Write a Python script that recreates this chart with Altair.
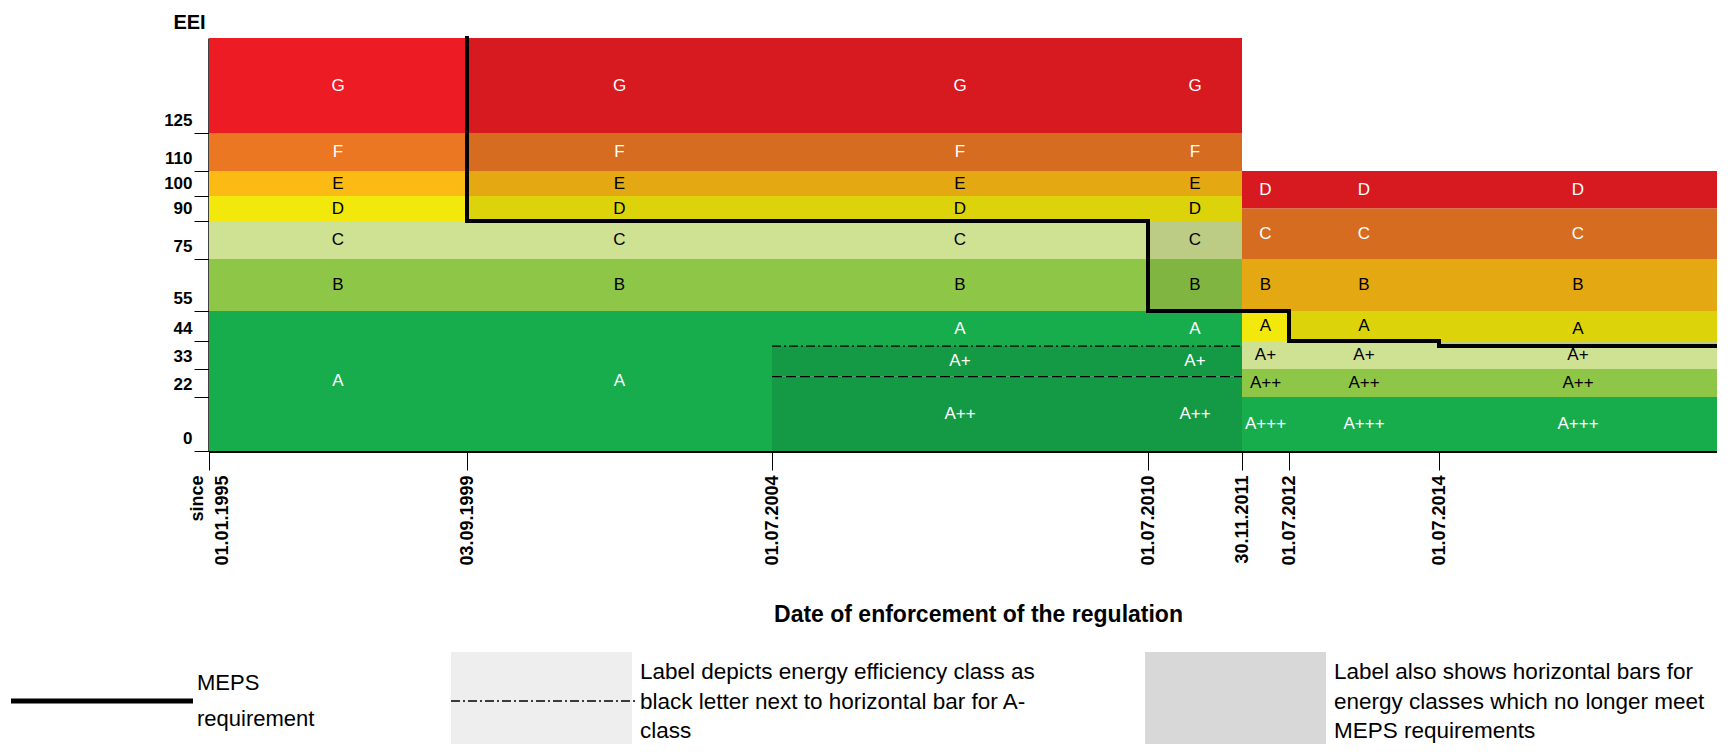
import altair as alt
import pandas as pd
import numpy as np

FONT = "Liberation Sans"

# ---------------- data ----------------
dates = ["01.01.1995", "03.09.1999", "01.07.2004", "01.07.2010",
         "30.11.2011", "01.07.2012", "01.07.2014"]
eei_ticks = [0, 22, 33, 44, 55, 75, 90, 100, 110, 125]

# non-linear axes (piecewise scales)
x_domain = [0, 1, 2, 3, 4, 5, 6, 7]
x_range_px = [0, 258, 563, 939, 1033, 1080, 1230, 1508]
y_domain = [0, 22, 33, 44, 55, 75, 90, 100, 110, 125, 150]
y_range_px = [413, 359, 331, 303, 273, 221, 183, 158, 133, 95, 0]

palette = ["#ED1C24", "#EC7723", "#FBBA14", "#F3E80C", "#CFE193", "#8EC748", "#17AD4D"]

# old scheme (1995-2004)
old_classes = ["G", "F", "E", "D", "C", "B", "A"]
old_lower = [125, 110, 100, 90, 75, 55, 0]
old_upper = [150, 125, 110, 100, 90, 75, 55]
old_tier = [0, 1, 2, 3, 4, 5, 6]

# old scheme with A+ / A++ (2004-2011)
old2_classes = ["G", "F", "E", "D", "C", "B", "A", "A+", "A++"]
old2_lower = [125, 110, 100, 90, 75, 55, 42, 30, 0]
old2_upper = [150, 125, 110, 100, 90, 75, 55, 42, 30]
old2_tier = [0, 1, 2, 3, 4, 5, 6, 6, 6]

# new scheme (since 30.11.2011)
new_classes = ["D", "C", "B", "A", "A+", "A++", "A+++"]
new_lower = [95, 75, 55, 44, 33, 22, 0]
new_lower_2014 = [95, 75, 55, 42, 33, 22, 0]
new_upper = [110, 95, 75, 55, 44, 33, 22]
new_tier = [0, 1, 2, 3, 4, 5, 6]

# MEPS requirement per period, and the MEPS step line
meps_level = [None, 90, 90, 55, 55, 44, 42]
meps_x = [1, 1, 3, 3, 5, 5, 6, 6, 7]
meps_y = [150, 90, 90, 55, 55, 44, 44, 42, 42]

# A+ / A++ thresholds 2004-2011 (horizontal bars)
aplus_line = 42
aplus2_line = 30

# ---------------- table ----------------
schemes = {
    "old": (old_classes, old_lower, old_upper, old_tier),
    "old2": (old2_classes, old2_lower, old2_upper, old2_tier),
    "new": (new_classes, new_lower, new_upper, new_tier),
    "new14": (new_classes, new_lower_2014, new_upper, new_tier),
}
columns = ["old", "old", "old2", "old2", "new", "new", "new14"]

rng_rev = y_range_px[::-1]
dom_rev = y_domain[::-1]


def px(v):
    return np.interp(v, y_domain, y_range_px)


rows = []
for c, sch in enumerate(columns):
    cls, lo, hi, tier = schemes[sch]
    for k in range(len(cls)):
        if meps_level[c] is not None and lo[k] >= meps_level[c]:
            stip = "meps"
        elif sch == "old2" and cls[k] in ("A+", "A++"):
            stip = "label"
        else:
            stip = "none"
        mid_px = (px(lo[k]) + px(hi[k])) / 2.0
        ly = float(np.interp(mid_px, rng_rev, dom_rev))
        rows.append(dict(x0=c, x1=c + 1, xm=c + 0.5, lo=lo[k], hi=hi[k],
                         cls=cls[k], tier=tier[k], stip=stip, ly=ly))
bands = pd.DataFrame(rows)
meps = pd.DataFrame({"x": meps_x, "y": meps_y, "i": list(range(len(meps_x)))})

# ---------------- scales / axes ----------------
x_scale = alt.Scale(domain=x_domain, range=x_range_px, nice=False, zero=False)
y_scale = alt.Scale(domain=y_domain, range=y_range_px, nice=False, zero=False)

labels_js = "[" + ",".join("'%s'" % d for d in dates) + "]"
label_expr = "datum.value == 0 ? ['since', %s[0]] : %s[datum.value]" % (labels_js, labels_js)

x_axis = alt.Axis(
    values=list(range(len(dates))), labelExpr=label_expr,
    labelAngle=270, labelAlign="right", labelBaseline="middle",
    labelOffset={"condition": {"test": "datum.value == 0", "value": -12}, "value": 0},
    labelFont=FONT, labelFontSize=18, labelFontWeight="bold", labelColor="black",
    labelPadding=5, labelLineHeight=25, labelOverlap=False, labelFlush=False,
    tickSize=19, tickColor="black", tickWidth=1,
    domainColor="black", domainWidth=3, grid=False,
    title="Date of enforcement of the regulation", titleFont=FONT, titleFontSize=23,
    titleFontWeight="bold", titleColor="black", titleX=769, titleY=170,
    titleAlign="center", titleBaseline="alphabetic",
)
y_axis = alt.Axis(
    values=eei_ticks, labelFont=FONT, labelFontSize=17, labelFontWeight="bold",
    labelColor="black", labelPadding=2, labelOffset=-13, labelBaseline="middle",
    labelOverlap=False, labelFlush=False,
    tickSize=15, tickColor="black", tickWidth=1,
    domainColor="black", domainWidth=2.5, grid=False,
    title="EEI", titleAngle=0, titleX=-20, titleY=-16, titleAlign="center",
    titleBaseline="middle", titleFont=FONT, titleFontSize=20, titleFontWeight="bold",
    titleColor="black",
)

base = alt.Chart(bands)

rects = base.mark_rect().encode(
    x=alt.X("x0:Q", scale=x_scale, axis=x_axis),
    x2="x1:Q",
    y=alt.Y("lo:Q", scale=y_scale, axis=y_axis),
    y2="hi:Q",
    color=alt.Color("tier:N", scale=alt.Scale(domain=list(range(7)), range=palette), legend=None),
)

stipple_meps = base.transform_filter("datum.stip == 'meps'").mark_rect(
    color="black", opacity=0.09
).encode(x="x0:Q", x2="x1:Q", y="lo:Q", y2="hi:Q")
stipple_label = base.transform_filter("datum.stip == 'label'").mark_rect(
    color="black", opacity=0.11
).encode(x="x0:Q", x2="x1:Q", y="lo:Q", y2="hi:Q")

labels = base.mark_text(font=FONT, fontSize=17).encode(
    x="xm:Q", y="ly:Q", text="cls:N",
    color=alt.condition("datum.tier <= 1 || datum.tier == 6", alt.value("white"), alt.value("black")),
)

bars_df = pd.DataFrame({"x0": [2, 2], "x1": [4, 4], "y": [aplus_line, aplus2_line],
                        "kind": ["dashdot", "dash"]})
dashdot = alt.Chart(bars_df).transform_filter("datum.kind == 'dashdot'").mark_rule(
    color="black", strokeWidth=1.2, strokeDash=[9, 3, 2, 3]
).encode(x="x0:Q", x2="x1:Q", y="y:Q")
dashed = alt.Chart(bars_df).transform_filter("datum.kind == 'dash'").mark_rule(
    color="black", strokeWidth=1.2, strokeDash=[10, 4]
).encode(x="x0:Q", x2="x1:Q", y="y:Q")

meps_line = alt.Chart(meps).mark_line(
    color="black", strokeWidth=4, strokeJoin="miter", strokeCap="square"
).encode(x="x:Q", y="y:Q", order="i:O")

# ---------------- custom legend ----------------
one = alt.Data(values=[{}])


def txt(s, x, y, size=22.5):
    return alt.Chart(one).mark_text(
        text=s, font=FONT, fontSize=size, align="left", baseline="alphabetic", color="black"
    ).encode(x=alt.value(x), y=alt.value(y))


leg = [
    alt.Chart(one).mark_rule(color="black", strokeWidth=5).encode(
        x=alt.value(-198), x2=alt.value(-16), y=alt.value(663)),
    txt("MEPS", -12, 652, 22), txt("requirement", -12, 688, 22),
    alt.Chart(one).mark_rect(color="#eeeeee").encode(
        x=alt.value(242), x2=alt.value(423), y=alt.value(614), y2=alt.value(714)),
    alt.Chart(one).mark_rule(color="black", strokeWidth=1.3, strokeDash=[9, 3, 2, 3]).encode(
        x=alt.value(242), x2=alt.value(429), y=alt.value(663)),
    txt("Label depicts energy efficiency class as", 431, 641),
    txt("black letter next to horizontal bar for A-", 431, 671),
    txt("class", 431, 700),
    alt.Chart(one).mark_rect(color="#d8d8d8").encode(
        x=alt.value(936), x2=alt.value(1117), y=alt.value(614), y2=alt.value(714)),
    txt("Label also shows horizontal bars for", 1125, 641),
    txt("energy classes which no longer meet", 1125, 671),
    txt("MEPS requirements", 1125, 700),
]

chart = alt.layer(rects, stipple_meps, stipple_label, labels, dashdot, dashed, meps_line, *leg).properties(
    width=1508, height=413,
    padding={"left": 201, "top": 30, "right": 0, "bottom": 293},
    autosize="none",
).configure(background="white").configure_view(
    stroke=None, strokeWidth=0, strokeOpacity=0
).configure_axis(grid=False)

chart.save("out.html", embed_options={"renderer": "svg", "actions": False})
